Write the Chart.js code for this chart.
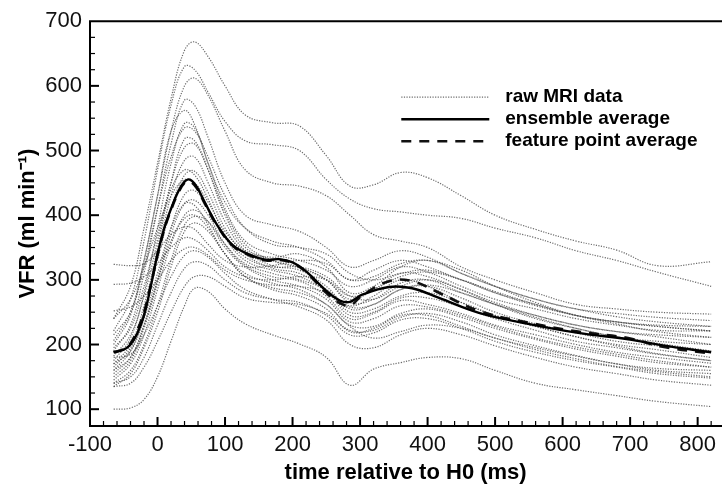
<!DOCTYPE html>
<html>
<head>
  <title>VFR vs time relative to H0</title>
  <script src="https://cdn.jsdelivr.net/npm/chart.js"></script>
  <style>
    body { margin: 0; background: #fff; }
    #wrap { width: 722px; height: 486px; position: relative; }
  </style>
</head>
<body>
  <div id="wrap"><canvas id="chart"></canvas></div>

  <script>
    // sample times (ms) for the raw MRI curves
    const timeRaw = [-65, -40, -20, 0, 20, 40, 55, 75, 100, 130, 170, 210, 250, 285, 320, 360, 400, 450, 500, 560, 620, 680, 740, 820];

    // raw MRI data, one array per subject (VFR, ml/min)
    const raw01 = [240, 290, 380, 480, 580, 655, 668, 645, 600, 555, 543, 538, 492, 445, 447, 466, 458, 430, 400, 378, 360, 346, 322, 328];
    const raw02 = [221, 270, 360, 470, 570, 630, 625, 590, 545, 515, 509, 500, 455, 425, 410, 405, 400, 395, 380, 365, 345, 330, 312, 290];
    const raw03 = [206, 250, 330, 430, 530, 600, 612, 585, 530, 470, 450, 445, 430, 400, 370, 360, 350, 320, 300, 280, 262, 255, 250, 247];
    const raw04 = [190, 230, 310, 410, 510, 578, 570, 520, 450, 400, 385, 375, 350, 320, 330, 345, 335, 310, 290, 270, 255, 248, 242, 237];
    const raw05 = [200, 245, 330, 430, 530, 562, 540, 480, 420, 380, 360, 350, 330, 300, 315, 330, 320, 300, 280, 262, 245, 235, 230, 228];
    const raw06 = [175, 210, 280, 380, 480, 542, 535, 480, 410, 360, 340, 330, 315, 290, 300, 320, 312, 290, 270, 255, 240, 230, 222, 221];
    const raw07 = [170, 200, 260, 350, 450, 518, 515, 470, 400, 350, 330, 320, 300, 270, 285, 310, 305, 285, 265, 245, 230, 220, 215, 211];
    const raw08 = [182, 215, 275, 360, 450, 505, 510, 470, 405, 355, 330, 318, 300, 265, 270, 295, 300, 280, 262, 242, 225, 212, 205, 200];
    const raw09 = [160, 190, 250, 340, 430, 485, 490, 450, 390, 345, 322, 315, 290, 255, 262, 285, 290, 272, 250, 232, 218, 205, 198, 190];
    const raw10 = [165, 195, 250, 330, 410, 462, 468, 435, 380, 340, 318, 310, 285, 250, 255, 275, 280, 265, 245, 228, 212, 200, 192, 180];
    const raw11 = [155, 180, 230, 300, 380, 432, 438, 410, 365, 330, 315, 305, 282, 245, 250, 272, 272, 258, 240, 222, 205, 195, 185, 175];
    const raw12 = [150, 175, 225, 295, 370, 418, 423, 400, 355, 322, 305, 298, 275, 240, 248, 268, 262, 248, 230, 215, 200, 188, 180, 171];
    const raw13 = [145, 170, 215, 285, 355, 400, 408, 390, 350, 320, 300, 290, 270, 235, 240, 260, 258, 245, 228, 210, 196, 185, 175, 165];
    const raw14 = [140, 160, 200, 260, 330, 385, 398, 390, 355, 325, 310, 300, 285, 260, 275, 300, 290, 265, 245, 228, 212, 198, 186, 175];
    const raw15 = [135, 155, 195, 250, 320, 375, 388, 375, 340, 305, 285, 275, 255, 220, 225, 245, 245, 228, 210, 195, 182, 170, 163, 160];
    const raw16 = [324, 322, 325, 345, 370, 382, 378, 355, 330, 320, 322, 330, 325, 300, 305, 325, 330, 315, 290, 265, 245, 232, 220, 211];
    const raw17 = [293, 295, 305, 325, 350, 365, 362, 345, 320, 305, 300, 305, 300, 275, 285, 305, 312, 300, 280, 260, 245, 235, 228, 221];
    const raw18 = [252, 258, 275, 300, 330, 348, 350, 338, 315, 300, 292, 290, 280, 258, 262, 285, 292, 280, 262, 245, 230, 220, 212, 200];
    const raw19 = [140, 150, 180, 230, 280, 318, 328, 322, 300, 280, 270, 265, 245, 215, 218, 238, 240, 225, 205, 188, 175, 165, 155, 148];
    const raw20 = [135, 140, 165, 205, 250, 290, 305, 305, 290, 272, 265, 262, 248, 222, 222, 242, 248, 235, 215, 198, 183, 170, 160, 155];
    const raw21 = [100, 102, 115, 150, 205, 260, 287, 282, 255, 232, 215, 201, 180, 137, 162, 172, 180, 178, 160, 140, 130, 121, 112, 104];
    const raw22 = [180, 185, 215, 260, 305, 338, 345, 335, 310, 285, 270, 258, 238, 200, 195, 215, 225, 215, 198, 180, 165, 155, 145, 137];
    const raw23 = [240, 270, 320, 380, 430, 455, 450, 420, 375, 345, 335, 340, 320, 280, 290, 320, 330, 310, 290, 270, 255, 243, 235, 228];
    const raw24 = [170, 190, 240, 310, 380, 418, 415, 385, 340, 310, 295, 285, 262, 230, 228, 248, 255, 242, 225, 208, 193, 182, 172, 165];
    const raw25 = [195, 225, 290, 370, 440, 470, 462, 425, 370, 335, 320, 320, 305, 275, 270, 290, 300, 285, 262, 240, 225, 212, 202, 190];
    const raw26 = [160, 180, 230, 300, 360, 395, 400, 380, 340, 305, 288, 280, 262, 228, 210, 220, 230, 225, 210, 192, 178, 166, 158, 150];
    const raw27 = [215, 250, 320, 410, 490, 535, 530, 490, 430, 380, 355, 350, 340, 310, 300, 310, 315, 300, 282, 262, 245, 235, 228, 221];
    const rawSeries = [raw01, raw02, raw03, raw04, raw05, raw06, raw07, raw08, raw09, raw10, raw11, raw12, raw13, raw14,
                       raw15, raw16, raw17, raw18, raw19, raw20, raw21, raw22, raw23, raw24, raw25, raw26, raw27];

    // averages
    const timeAvg = [-65, -50, -40, -30, -20, -10, 0, 10, 20, 30, 40, 48, 58, 70, 87, 111, 136, 161, 180, 200, 220, 250, 270, 285, 303, 343, 377, 417, 476, 549, 623, 697, 746, 820];
    const ensembleAvg = [188, 192, 200, 217, 245, 290, 340, 380, 410, 435, 452, 455, 444, 420, 387, 354, 339, 331, 332, 327, 313, 283, 268, 266, 277, 289, 287, 272, 249, 232, 218, 208, 199, 188];
    const featureAvg  = [188, 193, 202, 222, 250, 292, 338, 378, 408, 433, 450, 452, 442, 418, 386, 353, 338, 330, 331, 326, 312, 280, 264, 260, 276, 298, 298, 280, 252, 234, 220, 210, 197, 186];

    const legendLabels = ['raw MRI data', 'ensemble average', 'feature point average'];
    const xTicks = { min: -100, max: 835, step: 100, minor: 20 };
    const yTicks = { min: 74, max: 700, step: 100, minor: 25 };

    const FONT = '"Liberation Sans", Arial, Helvetica, sans-serif';
    Chart.defaults.font.family = FONT;
    Chart.defaults.color = '#111';

    const pts = (xs, ys) => xs.map((x, i) => ({ x: x, y: ys[i] }));

    const rawStyle = {
      borderColor: 'rgba(70,70,70,0.8)',
      borderWidth: 1.2,
      borderDash: [1.2, 1.4],
      pointRadius: 0,
      tension: 0.4,
      fill: false,
      order: 2
    };

    const datasets = rawSeries.map((s, i) => Object.assign({ label: 'raw ' + (i + 1), data: pts(timeRaw, s) }, rawStyle));
    datasets.push({
      label: 'feature point average',
      data: pts(timeAvg, featureAvg),
      borderColor: '#111',
      borderWidth: 2.6,
      borderDash: [10, 8],
      pointRadius: 0,
      tension: 0.4,
      order: 1
    });
    datasets.push({
      label: 'ensemble average',
      data: pts(timeAvg, ensembleAvg),
      borderColor: '#000',
      borderWidth: 2.4,
      pointRadius: 0,
      tension: 0.4,
      order: 0
    });

    // frame on left/top/bottom plus inward major and minor ticks
    const frameTicks = {
      id: 'frameTicks',
      afterDatasetsDraw(chart) {
        const { ctx, chartArea: a, scales: { x, y } } = chart;
        ctx.save();
        ctx.strokeStyle = '#000';
        ctx.lineWidth = 2;
        ctx.beginPath();
        ctx.moveTo(a.right + 2, a.top);
        ctx.lineTo(a.left, a.top);
        ctx.lineTo(a.left, a.bottom);
        ctx.lineTo(a.right + 2, a.bottom);
        ctx.stroke();

        for (let v = xTicks.min; v <= x.max; v += xTicks.minor) {
          const px = x.getPixelForValue(v);
          if (px <= a.left + 2) continue;
          const major = v % xTicks.step === 0;
          ctx.lineWidth = major ? 2 : 1.2;
          ctx.beginPath();
          ctx.moveTo(px, a.bottom);
          ctx.lineTo(px, a.bottom - (major ? 9 : 5));
          ctx.stroke();
        }
        for (let v = 100 - yTicks.minor; v <= yTicks.max; v += yTicks.minor) {
          const py = y.getPixelForValue(v);
          if (py >= a.bottom - 2 || py <= a.top + 2) continue;
          const major = v % yTicks.step === 0;
          ctx.lineWidth = major ? 2 : 1.2;
          ctx.beginPath();
          ctx.moveTo(a.left, py);
          ctx.lineTo(a.left + (major ? 9 : 5), py);
          ctx.stroke();
        }
        ctx.restore();
      }
    };

    // legend drawn inside the plot, top right
    const insideLegend = {
      id: 'insideLegend',
      afterDatasetsDraw(chart) {
        const { ctx, chartArea: a } = chart;
        const n = chart.data.datasets.length;
        const src = [chart.data.datasets[0], chart.data.datasets[n - 1], chart.data.datasets[n - 2]];
        const x0 = a.right - 320, lineW = 88, y0 = a.top + 76, gap = 22;
        ctx.save();
        ctx.font = 'bold 19px ' + FONT;
        ctx.textBaseline = 'middle';
        ctx.fillStyle = '#000';
        src.forEach((ds, i) => {
          const yy = y0 + i * gap;
          ctx.strokeStyle = ds.borderColor;
          ctx.lineWidth = ds.borderWidth;
          ctx.setLineDash(ds.borderDash || []);
          ctx.beginPath();
          ctx.moveTo(x0, yy);
          ctx.lineTo(x0 + lineW, yy);
          ctx.stroke();
          ctx.setLineDash([]);
          ctx.fillText(legendLabels[i], x0 + lineW + 16, yy);
        });
        ctx.restore();
      }
    };

    new Chart(document.getElementById('chart').getContext('2d'), {
      type: 'line',
      data: { datasets: datasets },
      plugins: [frameTicks, insideLegend],
      options: {
        responsive: true,
        maintainAspectRatio: false,
        animation: false,
        events: [],
        layout: { padding: { top: 17, right: 0, left: 0, bottom: 0 } },
        plugins: { legend: { display: false }, tooltip: { enabled: false } },
        scales: {
          x: {
            type: 'linear',
            min: xTicks.min,
            max: xTicks.max,
            grid: { display: false, drawTicks: false },
            border: { display: false },
            ticks: { stepSize: xTicks.step, includeBounds: false, padding: 6, maxRotation: 0, font: { size: 22 }, color: '#111' },
            title: { display: true, text: 'time relative to H0 (ms)', font: { size: 22, weight: 'bold' }, color: '#000', padding: { top: 0, bottom: 0 } },
            afterFit: s => { s.height = 60; }
          },
          y: {
            min: yTicks.min,
            max: yTicks.max,
            grid: { display: false, drawTicks: false },
            border: { display: false },
            ticks: { stepSize: yTicks.step, includeBounds: false, padding: 8, font: { size: 22 }, color: '#111' },
            title: { display: true, text: 'VFR (ml min⁻¹)', font: { size: 22, weight: 'bold' }, color: '#000', padding: { top: 15, bottom: 0 } },
            afterFit: s => { s.width = 90; }
          }
        }
      }
    });
  </script>
</body>
</html>
